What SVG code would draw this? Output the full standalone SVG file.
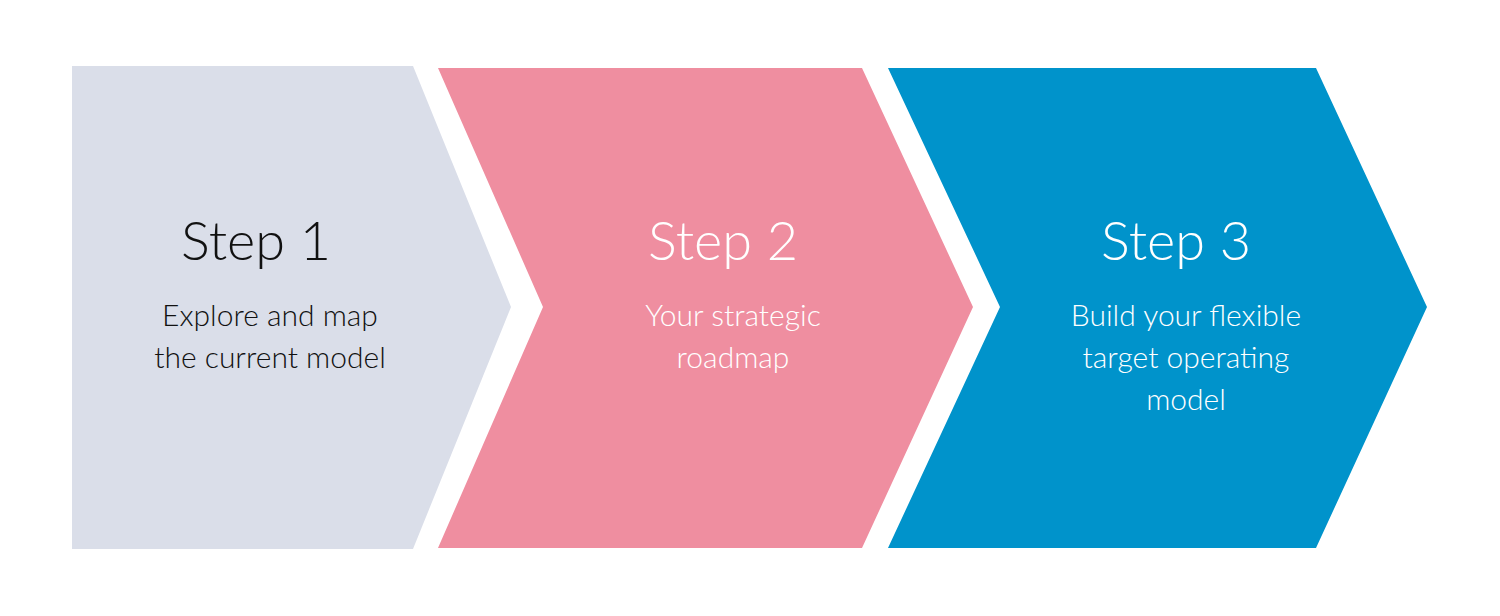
<svg xmlns="http://www.w3.org/2000/svg" width="1500" height="616" viewBox="0 0 1500 616">
<style>
text{font-family:Lato,"Open Sans",sans-serif;font-weight:300;text-anchor:middle}
.h{font-size:54px}.b{font-size:30px}
.dk{fill:#111}.lt{fill:#fff}
</style>
<rect width="1500" height="616" fill="#fff"/>
<g id="step1">
<polygon points="72,66 413,66 511,307 413,549 72,549" fill="#DADEE9"/>
<text class="h dk" x="256" y="260">Step 1</text>
<text class="b dk" x="270" y="326">Explore and map</text>
<text class="b dk" x="270" y="368">the current model</text>
</g>
<g id="step2">
<polygon points="438,68 862,68 973,307 862,548 438,548 543,307" fill="#EF8EA0"/>
<text class="h lt" x="723" y="260">Step 2</text>
<text class="b lt" x="733" y="326">Your strategic</text>
<text class="b lt" x="733" y="368">roadmap</text>
</g>
<g id="step3">
<polygon points="888,68 1316,68 1427,307 1316,548 888,548 1000,307" fill="#0093CB"/>
<text class="h lt" x="1176" y="260">Step 3</text>
<text class="b lt" x="1186" y="326">Build your flexible</text>
<text class="b lt" x="1186" y="368">target operating</text>
<text class="b lt" x="1186" y="410">model</text>
</g>
<g id="connectors"/>
</svg>
